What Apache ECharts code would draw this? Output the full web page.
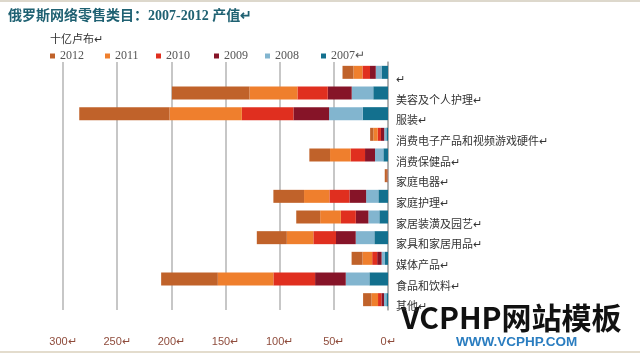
<!DOCTYPE html>
<html>
<head>
<meta charset="utf-8">
<script src="https://cdn.jsdelivr.net/npm/echarts@6/dist/echarts.min.js"></script>
<style>
html,body{margin:0;padding:0;background:#fff;}
#c{width:640px;height:357px;}
</style>
</head>
<body>
<div id="c"></div>
<script>
var categories = ['↵','美容及个人护理↵','服装↵','消费电子产品和视频游戏硬件↵','消费保健品↵','家庭电器↵','家庭护理↵','家居装潢及园艺↵','家具和家居用品↵','媒体产品↵','食品和饮料↵','其他↵'];
var years = ['2012','2011','2010','2009','2008','2007'];
var v2012 = [10.1, 71.6, 83.3, 3.0, 19.1, 2.0, 28.3, 22.1, 27.7, 10.1, 52.3, 7.7];
var v2011 = [8.3, 44.3, 66.8, 4.0, 19.1, 0.3, 23.4, 19.1, 24.5, 8.9, 51.3, 6.1];
var v2010 = [7.0, 28.0, 47.6, 3.0, 13.2, 0.2, 18.5, 13.8, 20.9, 4.6, 38.5, 3.1];
var v2009 = [5.3, 22.1, 32.9, 3.0, 9.2, 0.2, 15.4, 11.6, 18.2, 4.1, 28.3, 2.4];
var v2008 = [5.3, 19.9, 31.1, 2.0, 7.7, 0.2, 11.3, 10.1, 17.2, 3.1, 21.8, 2.2];
var v2007 = [6.0, 13.6, 23.3, 1.5, 4.3, 0.1, 8.9, 8.0, 12.6, 2.8, 17.2, 1.5];
var tickValues = [0, 50, 100, 150, 200, 250, 300];

var colors = {'2012':'#c0622a','2011':'#ef7f2d','2010':'#e02f1f','2009':'#861428','2008':'#82b5cf','2007':'#13708e'};
var dataByYear = {'2012':v2012,'2011':v2011,'2010':v2010,'2009':v2009,'2008':v2008,'2007':v2007};

var chart = echarts.init(document.getElementById('c'), null, {renderer:'canvas'});
var stackOrder = ['2007','2008','2009','2010','2011','2012'];
var series = stackOrder.map(function(y){
  return {name:y, type:'bar', stack:'total', barWidth:13, data:dataByYear[y],
    itemStyle:{color:colors[y]}, emphasis:{disabled:true}};
});
var legendLefts = [50, 105, 156, 214, 265, 321];
var legends = years.map(function(y,i){
  return {data:[y], left:legendLefts[i], top:50, icon:'rect', itemWidth:5, itemHeight:5,
    selectedMode:false, padding:0,
    formatter: y==='2007' ? '{name}↵' : '{name}',
    textStyle:{fontSize:12, color:'#555', fontFamily:'Liberation Serif, serif'}};
});

chart.setOption({
  animation:false,
  backgroundColor:'#fff',
  color: stackOrder.map(function(y){return colors[y];}),
  legend: legends,
  grid:{left:63, right:252, top:62, bottom:47, containLabel:false},
  xAxis:{type:'value', inverse:true, min:0, max:300, interval:50,
    axisLine:{show:false}, axisTick:{show:false},
    splitLine:{show:true, lineStyle:{color:'#b4b4b4', width:1.5}},
    axisLabel:{margin:26, fontSize:11, color:'#8f4c3c', fontFamily:'Liberation Sans, sans-serif',
      formatter:function(v){return tickValues.indexOf(v)>=0 ? v+'↵' : '';}}},
  yAxis:{type:'category', position:'right', inverse:true, data:categories,
    axisLine:{show:true, lineStyle:{color:'#a8a8a8', width:1.5}},
    axisTick:{show:false},
    axisLabel:{margin:8, fontSize:11, color:'#333', verticalAlign:'top', lineHeight:13,
      fontFamily:'Noto Sans CJK SC, sans-serif'}},
  graphic:[
    {type:'rect', shape:{x:0,y:0,width:640,height:2}, style:{fill:'#ddd8cc'}},
    {type:'text', left:8, top:9, style:{text:'俄罗斯网络零售类目：2007-2012 产值↵', fill:'#1f6172',
      font:'bold 14px "Liberation Serif", "Noto Sans CJK SC", serif'}},
    {type:'text', left:50, top:33, style:{text:'十亿卢布↵', fill:'#333',
      font:'11px "Noto Sans CJK SC", sans-serif'}},
    {type:'rect', shape:{x:0,y:351,width:640,height:2}, style:{fill:'#e3dccd'}},
    {type:'text', left:401, top:303, style:{text:'VCPHP网站模板', fill:'#111',
      font:'bold 30px "Noto Sans CJK SC", sans-serif'}},
    {type:'text', left:456, top:335, style:{text:'WWW.VCPHP.COM', fill:'#2a7dc0',
      font:'bold 13.5px "Liberation Sans", sans-serif'}}
  ],
  series: series
});
</script>
</body>
</html>
